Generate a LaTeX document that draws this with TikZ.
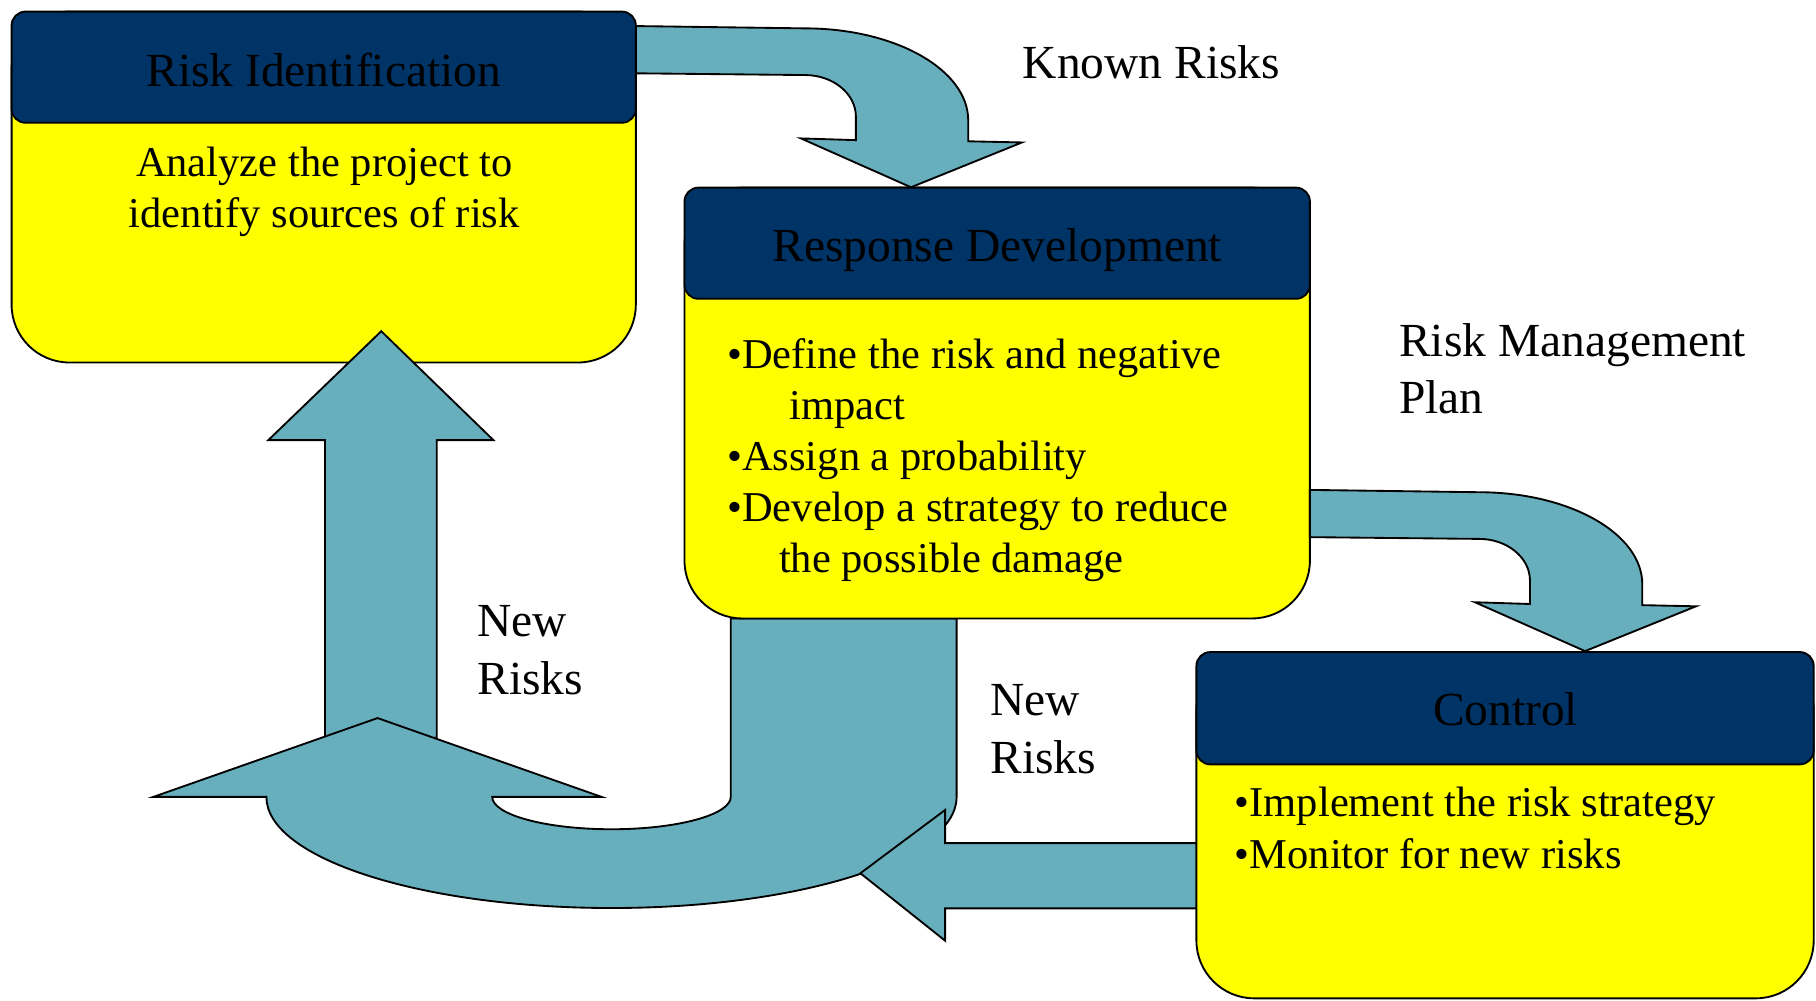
\documentclass[tikz,border=0pt]{standalone}
\usepackage{fontspec}
\setmainfont{Liberation Serif}
\definecolor{navy}{RGB}{0,51,102}
\definecolor{arrowteal}{RGB}{104,175,189}
\definecolor{boxyellow}{RGB}{255,255,0}
\begin{document}
\begin{tikzpicture}[x=1pt,y=-1pt, line join=miter,
  arrowshape/.style={draw=black, fill=arrowteal, line width=1.6pt},
  bodybox/.style={draw=black, fill=boxyellow, line width=1.6pt, rounded corners=50pt},
  headbox/.style={draw=black, fill=navy, line width=1.6pt, rounded corners=12pt},
  headtext/.style={inner sep=0pt, anchor=base, font=\fontsize{41}{49}\selectfont},
  bodytext/.style={inner sep=0pt, anchor=base west, font=\fontsize{36.7}{44}\selectfont},
  ctrtext/.style={inner sep=0pt, anchor=base, font=\fontsize{36.7}{44}\selectfont},
  labeltext/.style={inner sep=0pt, anchor=base west, font=\fontsize{41}{49}\selectfont}]

\fill[white] (0,0) rectangle (1568,864);
\useasboundingbox (0,0) rectangle (1568,864);

% Known Risks bent arrow
\draw[arrowshape] (549,22.5) -- (695,24.5) .. controls (772.9,24.5) and (836,60.1) .. (836,104)
  -- (836,122) -- (882.4,123) -- (786.6,161.7) -- (691.5,119.5) -- (739,121) -- (739,100.7)
  .. controls (739,80.9) and (719.3,64.8) .. (695,64.8) -- (549,63.3) -- cycle;

% Risk Identification box
\draw[bodybox] (10,10) rectangle (549,313);
\draw[headbox] (10,10) rectangle (549,106);
\node[headtext] (riskid) at (279.5,74.5) {Risk Identification};
\node[ctrtext] (riskid1) at (280,152.5) {Analyze the project to};
\node[ctrtext] (riskid2) at (280,196.6) {identify sources of risk};

% Up arrow to Risk Identification
\draw[arrowshape] (280.6,637) -- (280.6,380) -- (231.7,380) -- (329.2,286) -- (426,380)
  -- (377.1,380) -- (377.1,637) -- cycle;

% U-turn arrow from Response Development
\draw[arrowshape] (631,534) -- (631,688)
  arc[start angle=0, end angle=180, x radius=103, y radius=28]
  -- (519.2,688) -- (326,620) -- (132.6,688) -- (230,688)
  arc[start angle=180, end angle=0, x radius=298, y radius=96]
  -- (826,534) -- cycle;

% Response Development box
\draw[bodybox] (591,162) rectangle (1131,534);
\draw[headbox] (591,162) rectangle (1131,258);
\node[headtext] (resp) at (861,226) {Response Development};
\node[bodytext] (resp1) at (627.8,318) {•Define the risk and negative};
\node[bodytext] (resp2) at (681.6,362) {impact};
\node[bodytext] (resp3) at (627.8,406) {•Assign a probability};
\node[bodytext] (resp4) at (627.8,450) {•Develop a strategy to reduce};
\node[bodytext] (resp5) at (672.5,494) {the possible damage};

% Risk Management Plan bent arrow
\begin{scope}[shift={(582,400.5)}]
\draw[arrowshape] (549,22.5) -- (695,24.5) .. controls (772.9,24.5) and (836,60.1) .. (836,104)
  -- (836,122) -- (882.4,123) -- (786.6,161.7) -- (691.5,119.5) -- (739,121) -- (739,100.7)
  .. controls (739,80.9) and (719.3,64.8) .. (695,64.8) -- (549,63.3) -- cycle;
\end{scope}

% Arrow from Control to the left
\draw[arrowshape] (1040,728) -- (816,728) -- (816,699.4) -- (742.9,754) -- (816,812.2)
  -- (816,784.3) -- (1040,784.3) -- cycle;

% Control box
\draw[bodybox] (1033,563) rectangle (1566,862);
\draw[headbox] (1033,563) rectangle (1566,660);
\node[headtext] (ctrl) at (1300,626) {Control};
\node[bodytext] (ctrl1) at (1066,705) {•Implement the risk strategy};
\node[bodytext] (ctrl2) at (1066,749.5) {•Monitor for new risks};

% Labels
\node[labeltext] (known) at (883,68) {Known Risks};
\node[labeltext] (rmp1) at (1208,308) {Risk Management};
\node[labeltext] (rmp2) at (1208,357) {Plan};
\node[labeltext] (newa1) at (412,550) {New};
\node[labeltext] (newa2) at (412,600) {Risks};
\node[labeltext] (newb1) at (855,618) {New};
\node[labeltext] (newb2) at (855,668) {Risks};
\end{tikzpicture}
\end{document}
